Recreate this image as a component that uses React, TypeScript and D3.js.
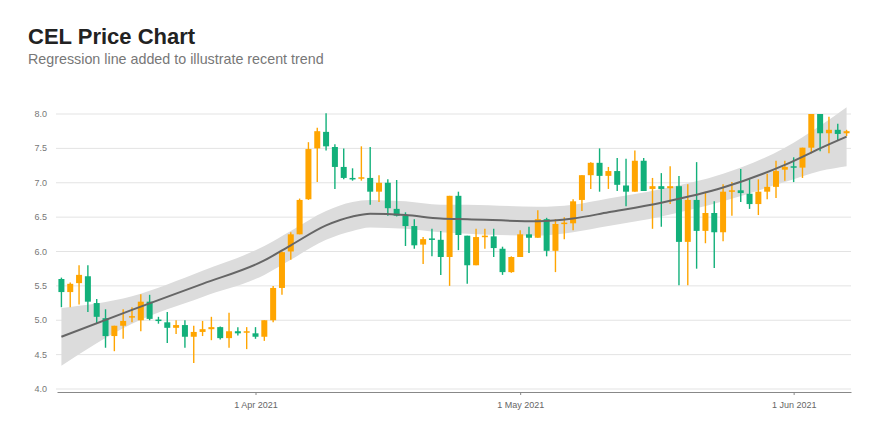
import React, { useRef, useEffect } from 'react';
import * as d3 from 'd3';

// daily candles, first one on 10 Mar 2021
const startDay = new Date(Date.UTC(2021, 2, 10));

const opens = [
  5.60, 5.41, 5.54, 5.64, 5.25, 5.03, 4.77, 4.92, 5.04, 5.00,
  5.27, 5.01, 4.97, 4.89, 4.93, 4.76, 4.83, 4.87, 4.90, 4.74,
  4.84, 4.82, 4.81, 4.76, 5.00, 5.47, 6.00, 6.25, 6.76, 7.50,
  7.74, 7.52, 7.23, 7.07, 7.06, 7.07, 6.87, 7.00, 6.62, 6.52,
  6.37, 6.10, 6.19, 6.17, 5.92, 6.81, 6.23, 5.80, 6.21, 6.22,
  6.04, 5.70, 5.92, 6.25, 6.20, 6.47, 6.01, 6.40, 6.41, 6.75,
  7.11, 7.29, 7.10, 7.17, 6.96, 6.87, 7.32, 6.91, 6.95, 6.92,
  6.95, 6.14, 6.75, 6.30, 6.56, 6.28, 6.87, 6.89, 6.84, 6.69,
  6.87, 6.94, 7.19, 7.24, 7.22, 7.51, 8.00, 7.72, 7.77, 7.72,
];
const highs = [
  5.62, 5.55, 5.80, 5.80, 5.31, 5.16, 4.92, 5.16, 5.19, 5.38,
  5.37, 5.05, 5.12, 5.00, 5.00, 4.92, 4.99, 5.05, 4.91, 5.11,
  4.90, 4.90, 4.90, 5.00, 5.50, 6.00, 6.28, 6.77, 7.59, 7.80,
  8.01, 7.56, 7.50, 7.21, 7.53, 7.52, 7.11, 7.05, 7.04, 6.57,
  6.47, 6.21, 6.33, 6.30, 6.81, 6.87, 6.23, 6.33, 6.33, 6.33,
  6.07, 5.93, 6.31, 6.36, 6.60, 6.49, 6.47, 6.50, 6.76, 7.11,
  7.30, 7.50, 7.23, 7.36, 7.35, 7.47, 7.36, 7.07, 7.14, 7.24,
  7.10, 6.98, 7.30, 6.87, 6.73, 6.98, 7.01, 7.20, 7.05, 7.05,
  7.13, 7.32, 7.32, 7.37, 7.51, 8.00, 8.00, 7.96, 7.86, 7.77,
];
const lows = [
  5.19, 5.19, 5.23, 5.12, 4.96, 4.60, 4.55, 4.73, 4.97, 4.84,
  5.00, 4.95, 4.67, 4.80, 4.60, 4.38, 4.77, 4.71, 4.72, 4.60,
  4.78, 4.58, 4.73, 4.70, 4.97, 5.37, 5.88, 6.25, 6.75, 7.01,
  7.47, 6.91, 7.05, 7.03, 7.03, 6.68, 6.72, 6.52, 6.51, 6.08,
  6.04, 5.82, 5.93, 5.66, 5.50, 6.02, 5.53, 5.80, 6.04, 5.92,
  5.66, 5.69, 5.92, 5.98, 6.20, 5.93, 5.70, 6.18, 6.31, 6.59,
  6.91, 6.87, 6.91, 6.88, 6.66, 6.87, 6.88, 6.33, 6.36, 6.69,
  5.51, 5.51, 5.75, 6.12, 5.76, 6.15, 6.52, 6.72, 6.62, 6.53,
  6.76, 6.78, 7.03, 7.01, 7.07, 7.43, 7.46, 7.43, 7.61, 7.68,
];
const closes = [
  5.41, 5.53, 5.66, 5.27, 5.05, 4.77, 4.92, 4.99, 5.06, 5.27,
  5.02, 4.99, 4.89, 4.93, 4.76, 4.83, 4.87, 4.90, 4.74, 4.84,
  4.81, 4.84, 4.76, 5.00, 5.47, 5.99, 6.25, 6.75, 7.49, 7.75,
  7.53, 7.23, 7.07, 7.05, 7.08, 6.87, 7.00, 6.63, 6.52, 6.37,
  6.09, 6.18, 6.17, 5.92, 6.81, 6.24, 5.80, 6.21, 6.23, 6.05,
  5.70, 5.92, 6.25, 6.20, 6.47, 6.01, 6.40, 6.42, 6.73, 7.11,
  7.29, 7.10, 7.17, 6.97, 6.87, 7.32, 6.88, 6.95, 6.91, 6.95,
  6.14, 6.75, 6.30, 6.56, 6.28, 6.87, 6.89, 6.85, 6.69, 6.87,
  6.94, 7.17, 7.23, 7.22, 7.51, 8.00, 7.72, 7.77, 7.71, 7.75,
];

const regDays = [0, 8, 16, 23, 26, 30, 33, 35, 39, 43, 46, 54, 58, 62, 68, 75, 82, 86, 89];
const regValues = [4.76, 5.15, 5.53, 5.87, 6.09, 6.38, 6.51, 6.55, 6.53, 6.48, 6.47, 6.44, 6.48, 6.57, 6.71, 6.93, 7.26, 7.50, 7.67];
const regHalfBand = [0.42, 0.2, 0.19, 0.21, 0.21, 0.21, 0.21, 0.2, 0.2, 0.2, 0.21, 0.21, 0.2, 0.2, 0.2, 0.2, 0.25, 0.33, 0.43];

const yTicks = [4.0, 4.5, 5.0, 5.5, 6.0, 6.5, 7.0, 7.5, 8.0];

const UP = '#ffa500';
const DOWN = '#12b07a';
const FONT = '"Liberation Sans", Arial, sans-serif';

const App = () => {
  const svgRef = useRef<SVGSVGElement>(null);

  useEffect(() => {
    const width = 880;
    const height = 440;

    d3.select(svgRef.current).selectAll('*').remove();
    const svg = d3.select(svgRef.current)
      .attr('width', width)
      .attr('height', height)
      .style('font-family', FONT);

    const dates = opens.map((_, i) => d3.utcDay.offset(startDay, i));
    const x = d3.scaleUtc()
      .domain([d3.utcHour.offset(dates[0], -12), d3.utcHour.offset(dates[dates.length - 1], 12)])
      .range([57, 851]);
    const y = d3.scaleLinear().domain([4, 8]).range([389, 114]);

    // titles
    svg.append('text')
      .attr('x', 28).attr('y', 44)
      .attr('font-size', 22).attr('font-weight', 'bold')
      .attr('fill', '#222')
      .text('CEL Price Chart');
    svg.append('text')
      .attr('x', 28).attr('y', 64)
      .attr('font-size', 14.3)
      .attr('fill', '#777')
      .text('Regression line added to illustrate recent trend');

    // grid + y labels
    svg.append('g').selectAll('line')
      .data(yTicks)
      .enter().append('line')
      .attr('x1', 56).attr('x2', 851)
      .attr('y1', d => y(d)).attr('y2', d => y(d))
      .attr('stroke', '#e3e3e3');
    svg.append('g').selectAll('text')
      .data(yTicks)
      .enter().append('text')
      .attr('x', 47).attr('y', d => y(d)).attr('dy', '0.34em')
      .attr('text-anchor', 'end')
      .attr('font-size', 9).attr('fill', '#777')
      .text(d => d3.format('.1f')(d));

    // x axis
    const xAxis = svg.append('g')
      .attr('transform', 'translate(0, 392)')
      .call(d3.axisBottom(x)
        .ticks(d3.utcMonth.every(1))
        .tickFormat(d3.utcFormat('%-d %b %Y') as any)
        .tickSize(3)
        .tickSizeOuter(0)
        .tickPadding(7));
    xAxis.select('.domain').attr('stroke', '#888');
    xAxis.selectAll('.tick line').attr('stroke', '#888');
    xAxis.selectAll('.tick text')
      .attr('font-size', 9).attr('fill', '#666')
      .style('font-family', FONT);

    // regression band
    const regDates = regDays.map(d => d3.utcDay.offset(startDay, d));
    const band = d3.area<number>()
      .x(i => x(regDates[i]))
      .y0(i => y(regValues[i] - regHalfBand[i]))
      .y1(i => y(regValues[i] + regHalfBand[i]))
      .curve(d3.curveMonotoneX);
    svg.append('path')
      .attr('d', band(d3.range(regDays.length)))
      .attr('fill', '#dcdcdc');

    // candles
    const bodyW = 6;
    const candles = svg.append('g').selectAll('g')
      .data(dates.map((d, i) => ({ date: d, o: opens[i], h: highs[i], l: lows[i], c: closes[i] })))
      .enter().append('g');
    candles.append('line')
      .attr('x1', d => x(d.date)).attr('x2', d => x(d.date))
      .attr('y1', d => y(d.h)).attr('y2', d => y(d.l))
      .attr('stroke', d => (d.c >= d.o ? UP : DOWN))
      .attr('stroke-width', 1.4);
    candles.append('rect')
      .attr('x', d => x(d.date) - bodyW / 2)
      .attr('width', bodyW)
      .attr('y', d => y(Math.max(d.o, d.c)))
      .attr('height', d => Math.max(1.5, Math.abs(y(d.o) - y(d.c))))
      .attr('fill', d => (d.c >= d.o ? UP : DOWN));

    // regression line
    const line = d3.line<number>()
      .x(i => x(regDates[i]))
      .y(i => y(regValues[i]))
      .curve(d3.curveMonotoneX);
    svg.append('path')
      .attr('d', line(d3.range(regDays.length)))
      .attr('fill', 'none')
      .attr('stroke', '#666')
      .attr('stroke-width', 2);
  }, []);

  return (
    <div>
      <svg ref={svgRef} style={{ position: 'absolute', left: 0, top: 0 }}></svg>
    </div>
  );
};

export default App;
